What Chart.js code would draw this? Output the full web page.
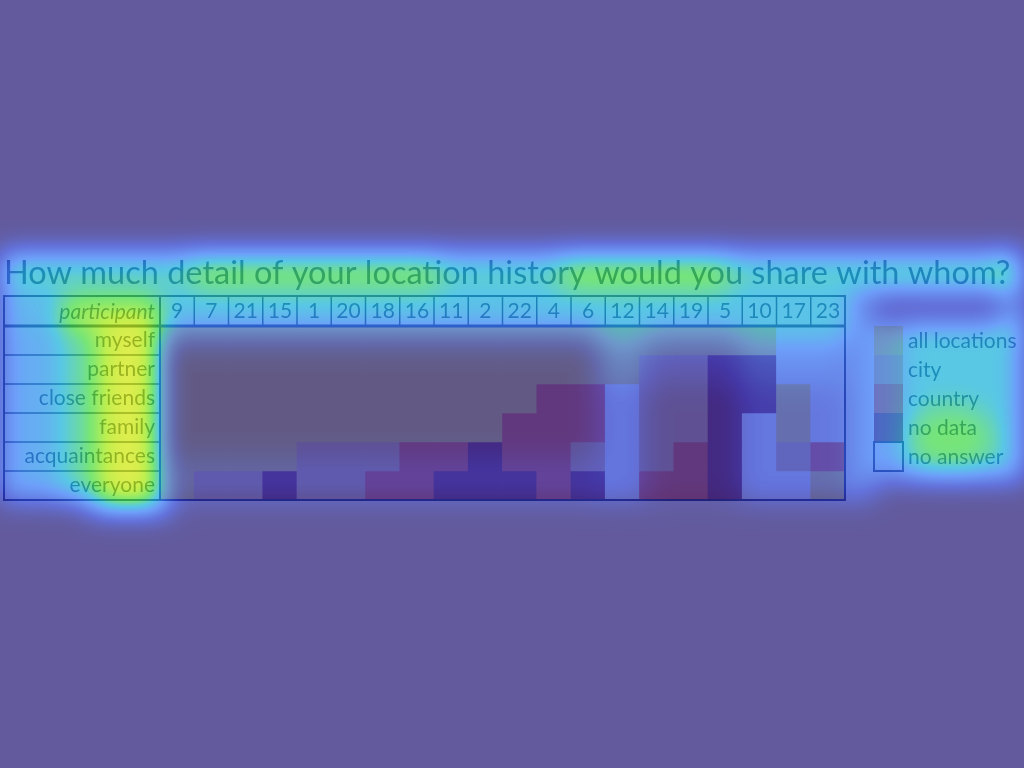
<!DOCTYPE html>
<html><head><meta charset="utf-8">
<script src="https://cdn.jsdelivr.net/npm/chart.js@4.4.1/dist/chart.umd.min.js"></script>
<style>html,body{margin:0;padding:0;background:#635b9d;overflow:hidden}canvas{display:block}</style>
</head><body>
<canvas id="c" width="1024" height="768"></canvas>
<script>
// ---------- data ----------
const titleText = 'How much detail of your location history would you share with whom?';
const headerLabel = 'participant';
const participants = ['9','7','21','15','1','20','18','16','11','2','22','4','6','12','14','19','5','10','17','23'];
const rowLabels = ['myself','partner','close friends','family','acquaintances','everyone'];
// codes: A = all locations, C = city, K = country, N = no data, X = no answer
const myself        = ['A','A','A','A','A','A','A','A','A','A','A','A','A','A','A','A','A','A','X','X'];
const partner       = ['A','A','A','A','A','A','A','A','A','A','A','A','A','A','C','C','N','N','X','X'];
const closeFriends  = ['A','A','A','A','A','A','A','A','A','A','A','K','K','X','C','C','N','N','A','X'];
const family        = ['A','A','A','A','A','A','A','A','A','A','K','K','K','X','C','C','N','X','A','X'];
const acquaintances = ['A','A','A','A','C','C','C','K','K','N','K','K','C','X','C','K','N','X','C','K'];
const everyone      = ['A','C','C','N','C','C','K','K','N','N','N','K','N','X','K','K','N','X','X','A'];
const legendLabels = ['all locations','city','country','no data','no answer'];
const legendCodes  = ['A','C','K','N','X'];

// ---------- styles ----------
const levelColors = {A:'rgb(255,225,95)', C:'rgb(240,190,140)', K:'rgb(250,110,70)', N:'rgb(150,60,80)', X:'#ffffff'};
const TEXT = '#2f3c6a';
const LINE = '#26305f';
const FONT = 'Lato, "Open Sans", sans-serif';

// attention overlay (decoration): [x, y, w, h, intensity, shape]
const HOT = [
  [0,252,1015,42,0.6,'r'],
  [190,250,250,45,0.12,'r'],
  [560,250,170,45,0.14,'r'],
  [1005,250,19,80,0.35,'r'],
  [160,296,690,30,0.55,'r'],
  [0,296,160,30,0.5,'r'],
  [60,296,100,30,0.32,'r'],
  [0,326,160,175,0.45,'r'],
  [60,322,100,180,0.18,'r'],
  [100,320,60,185,0.32,'r'],
  [90,498,80,16,0.5,'r'],
  [160,326,685,175,0.08,'r'],
  [596,326,50,175,0.14,'r'],
  [740,326,105,175,0.15,'r'],
  [600,326,245,58,0.1,'r'],
  [160,326,685,18,0.2,'r'],
  [160,458,440,42,0.1,'r'],
  [845,300,30,200,0.3,'r'],
  [870,320,30,160,0.38,'r'],
  [900,320,124,160,0.55,'r'],
  [950,440,45,35,0.15,'e']
];
const CMAP = [
  [0.00,[32,21,115]],
  [0.20,[34,55,205]],
  [0.40,[48,119,248]],
  [0.55,[19,177,219]],
  [0.70,[62,219,62]],
  [0.85,[162,233,5]],
  [1.00,[230,230,0]]
];
function cmap(t){
  if (t<=0) return CMAP[0][1];
  for (let i=1;i<CMAP.length;i++){
    if (t<=CMAP[i][0]){
      const [t0,c0]=CMAP[i-1],[t1,c1]=CMAP[i];
      const f=(t-t0)/(t1-t0);
      return [c0[0]+(c1[0]-c0[0])*f, c0[1]+(c1[1]-c0[1])*f, c0[2]+(c1[2]-c0[2])*f];
    }
  }
  return CMAP[CMAP.length-1][1];
}
let heatCanvas = null;
function buildHeat(w,h){
  const a=document.createElement('canvas'); a.width=w; a.height=h;
  const g=a.getContext('2d');
  g.fillStyle='#000'; g.fillRect(0,0,w,h);
  g.globalCompositeOperation='lighter';
  for (const s of HOT){
    const v=Math.round(s[4]*255);
    g.fillStyle=`rgb(${v},${v},${v})`;
    if (s[5]==='e'){ g.beginPath(); g.ellipse(s[0],s[1],s[2],s[3],0,0,Math.PI*2); g.fill(); }
    else g.fillRect(s[0],s[1],s[2],s[3]);
  }
  const b=document.createElement('canvas'); b.width=w; b.height=h;
  const gb=b.getContext('2d');
  gb.fillStyle='#000'; gb.fillRect(0,0,w,h);
  gb.filter='blur(14px)'; gb.drawImage(a,0,0); gb.filter='none';
  const img=gb.getImageData(0,0,w,h), d=img.data;
  for (let i=0;i<d.length;i+=4){
    const c=cmap(d[i]/255);
    d[i]=c[0]; d[i+1]=c[1]; d[i+2]=c[2]; d[i+3]=255;
  }
  gb.putImageData(img,0,0);
  return b;
}

const rowsData = [myself, partner, closeFriends, family, acquaintances, everyone];
const datasets = rowsData.map((codes,i)=>({
  label: rowLabels[i],
  data: codes.map(()=>1),
  backgroundColor: codes.map(c=>levelColors[c]),
  borderWidth: 0,
  barPercentage: 1,
  categoryPercentage: 1,
  stack: 'grid'
}));

function line(ctx,x1,y1,x2,y2){ ctx.beginPath(); ctx.moveTo(x1,y1); ctx.lineTo(x2,y2); ctx.stroke(); }

const tablePlugin = {
  id:'table',
  beforeDraw(chart){
    const ctx=chart.ctx; ctx.save(); ctx.fillStyle='#fff'; ctx.fillRect(0,0,chart.width,chart.height); ctx.restore();
  },
  afterDatasetsDraw(chart){
    const {ctx, chartArea:ca, scales:{x,y}} = chart;
    const top = x.top, left = 4;
    ctx.save();
    ctx.strokeStyle=LINE;
    ctx.lineWidth=1.5;
    for (let i=1;i<participants.length;i++){
      const xb=(x.getPixelForValue(i-1)+x.getPixelForValue(i))/2;
      line(ctx,xb,top,xb,ca.top);
    }
    for (let i=1;i<rowLabels.length;i++){
      const yb=y.getPixelForValue(i);
      line(ctx,left,yb,ca.left,yb);
    }
    ctx.lineWidth=2;
    ctx.strokeRect(left,top,ca.right-left,ca.bottom-top);
    line(ctx,ca.left,top,ca.left,ca.bottom);
    ctx.lineWidth=3;
    line(ctx,left,ca.top,ca.right,ca.top);
    // header label
    ctx.fillStyle=TEXT; ctx.textBaseline='middle'; ctx.textAlign='right';
    ctx.font='italic 21px '+FONT;
    ctx.fillText(headerLabel, ca.left-5, (top+ca.top)/2+1);
    // legend
    const lx = ca.right + 29, bw = 29;
    ctx.font = '21px '+FONT; ctx.textAlign='left';
    legendLabels.forEach((lab,i)=>{
      const y0=y.getPixelForValue(i), y1=y.getPixelForValue(i+1);
      ctx.fillStyle=levelColors[legendCodes[i]];
      ctx.fillRect(lx,y0,bw,y1-y0);
      if (legendCodes[i]==='X'){ ctx.lineWidth=2; ctx.strokeStyle=LINE; ctx.strokeRect(lx,y0,bw,y1-y0); }
      ctx.fillStyle=TEXT;
      ctx.fillText(lab, lx+bw+5, (y0+y1)/2+1);
    });
    ctx.restore();
  },
  afterDraw(chart){
    if (!heatCanvas) heatCanvas = buildHeat(chart.width, chart.height);
    const ctx=chart.ctx; ctx.save(); ctx.globalAlpha=0.7; ctx.drawImage(heatCanvas,0,0); ctx.restore();
  }
};

new Chart(document.getElementById('c'), {
  type:'bar',
  data:{ labels: participants, datasets },
  options:{
    responsive:false, animation:false, devicePixelRatio:1, events:[],
    layout:{ padding:{left:4, right:0, top:248, bottom:268} },
    plugins:{
      legend:{display:false}, tooltip:{enabled:false},
      title:{display:true, text:titleText, align:'start', color:TEXT,
        font:{family:FONT, size:32.5, weight:'normal', lineHeight:1.2}, padding:{top:6,bottom:3}}
    },
    scales:{
      x:{ type:'category', position:'top', stacked:true, offset:true,
        grid:{display:false, drawTicks:false}, border:{display:false},
        ticks:{font:{family:FONT,size:21}, color:TEXT, padding:2, maxRotation:0, autoSkip:false},
        afterFit:s=>{ s.height=30; } },
      y:{ type:'linear', position:'left', min:0, max:6, reverse:true, stacked:true,
        grid:{display:false, drawTicks:false}, border:{display:false},
        afterBuildTicks:s=>{ s.ticks=rowLabels.map((_,i)=>({value:i+0.5})); },
        ticks:{callback:v=>rowLabels[Math.floor(v)], font:{family:FONT,size:21}, color:TEXT, padding:5},
        afterFit:s=>{ s.width=156; } },
      yR:{ position:'right', display:true, grid:{display:false, drawTicks:false}, border:{display:false},
        ticks:{display:false}, afterFit:s=>{ s.width=179; } }
    }
  },
  plugins:[tablePlugin]
});
</script>
</body></html>
